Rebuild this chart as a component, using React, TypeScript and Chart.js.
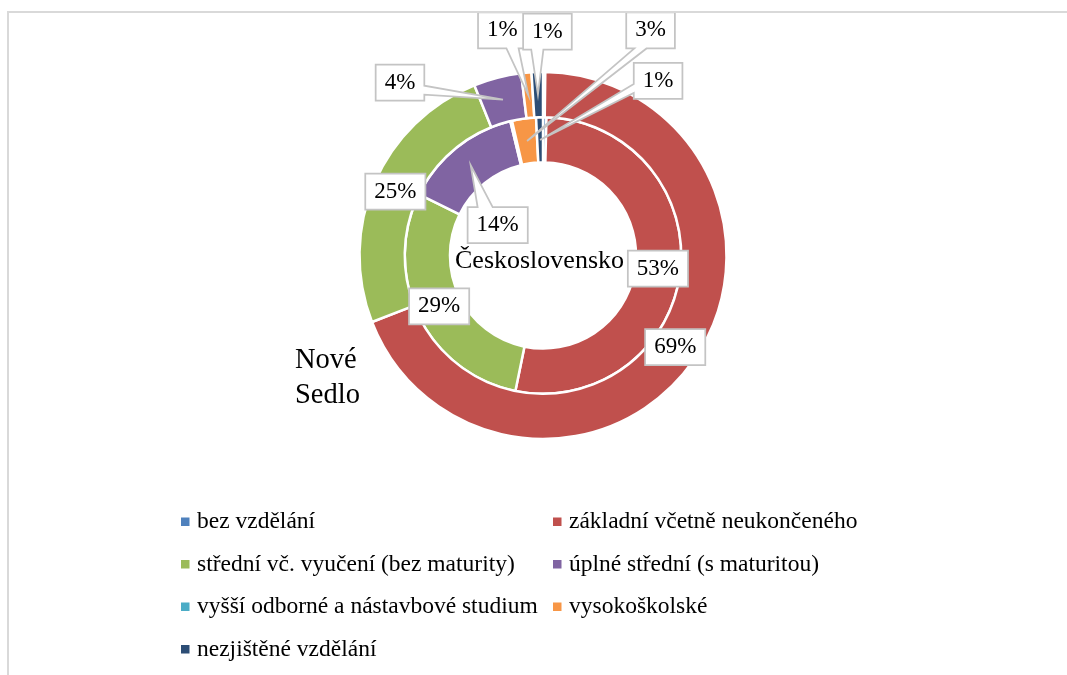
import { useEffect, useRef } from "react";
import { Chart, registerables } from "chart.js";

Chart.register(...registerables);

const categories = [
  "bez vzdělání",
  "základní včetně neukončeného",
  "střední vč. vyučení (bez maturity)",
  "úplné střední (s maturitou)",
  "vyšší odborné a nástavbové studium",
  "vysokoškolské",
  "nezjištěné vzdělání",
];

const seriesNames = ["Nové Sedlo", "Československo"];

// Nové Sedlo (outer ring), percent
const noveSedlo = [0.2, 68.9, 24.8, 4.2, 0, 0.9, 1.0];
// Československo (inner ring), percent
const ceskoslovensko = [0.4, 52.8, 29.1, 13.9, 0.2, 2.8, 0.8];

const colors = ["#4F81BD", "#C0504D", "#9BBB59", "#8064A2", "#4BACC6", "#F79646", "#2C4D75"];

// label displacement from the segment centre (layout only), per ring / per slice
const labelOffsets = [
  [[0, 0], [0, 0], [0, 0], [-103, -17], [0, 0], [-26, -65], [9.5, -63]],
  [[0, 0], [0, 0], [0, 0], [27, 60], [0, 0], [123.5, -110.5], [118, -59]],
];

const FONT = "'Liberation Serif', 'Times New Roman', serif";

const calloutPlugin = {
  id: "callouts",
  afterDatasetsDraw(chart: any) {
    const ctx = chart.ctx as CanvasRenderingContext2D;
    ctx.save();
    ctx.font = `23px ${FONT}`;
    chart.data.datasets.forEach((ds: any, di: number) => {
      const meta = chart.getDatasetMeta(di);
      meta.data.forEach((arc: any, i: number) => {
        const v = ds.data[i];
        const pct = Math.round(v);
        if (pct < 1) return;
        const p = arc.getProps(["x", "y", "startAngle", "endAngle", "innerRadius", "outerRadius"]);
        const mid = (p.startAngle + p.endAngle) / 2;
        const r = (p.innerRadius + p.outerRadius) / 2;
        const ax = p.x + Math.cos(mid) * r;
        const ay = p.y + Math.sin(mid) * r;
        const [dx, dy] = labelOffsets[di][i];
        const cx = ax + dx;
        const cy = ay + dy;
        const text = pct + "%";
        const tw = ctx.measureText(text).width;
        const w = tw + 18;
        const h = 36;
        const l = cx - w / 2;
        const t = cy - h / 2;
        const rr = l + w;
        const b = t + h;
        const relx = ax - cx;
        const rely = ay - cy;
        ctx.beginPath();
        const inside = Math.abs(relx) <= w / 2 && Math.abs(rely) <= h / 2;
        if (inside) {
          ctx.rect(l, t, w, h);
        } else {
          const horiz = Math.abs(relx) / w > Math.abs(rely) / h;
          const fx = relx < 0 ? [w / 6, (5 * w) / 12] : [(7 * w) / 12, (5 * w) / 6];
          const fy = rely < 0 ? [h / 6, (5 * h) / 12] : [(7 * h) / 12, (5 * h) / 6];
          ctx.moveTo(l, t);
          if (!horiz && rely < 0) {
            ctx.lineTo(l + fx[0], t);
            ctx.lineTo(ax, ay);
            ctx.lineTo(l + fx[1], t);
          }
          ctx.lineTo(rr, t);
          if (horiz && relx > 0) {
            ctx.lineTo(rr, t + fy[0]);
            ctx.lineTo(ax, ay);
            ctx.lineTo(rr, t + fy[1]);
          }
          ctx.lineTo(rr, b);
          if (!horiz && rely > 0) {
            ctx.lineTo(l + fx[1], b);
            ctx.lineTo(ax, ay);
            ctx.lineTo(l + fx[0], b);
          }
          ctx.lineTo(l, b);
          if (horiz && relx < 0) {
            ctx.lineTo(l, t + fy[1]);
            ctx.lineTo(ax, ay);
            ctx.lineTo(l, t + fy[0]);
          }
          ctx.closePath();
        }
        ctx.fillStyle = "#FFFFFF";
        ctx.fill();
        ctx.strokeStyle = "#C4C4C4";
        ctx.lineWidth = 1.75;
        ctx.lineJoin = "miter";
        ctx.stroke();
        ctx.fillStyle = "#000000";
        ctx.textAlign = "center";
        ctx.textBaseline = "middle";
        ctx.fillText(text, cx, cy);
      });
    });
    ctx.restore();
  },
  afterDraw(chart: any) {
    const ctx = chart.ctx as CanvasRenderingContext2D;
    ctx.save();
    // chart frame
    ctx.fillStyle = "#D9D9D9";
    ctx.fillRect(7, 11, 1070, 2);
    ctx.fillRect(7, 11, 2, 700);

    // series name labels
    const meta = chart.getDatasetMeta(0);
    const c = meta.data[0];
    const cxp = c.x;
    const cyp = c.y;
    ctx.fillStyle = "#000000";
    ctx.textBaseline = "alphabetic";
    ctx.textAlign = "left";
    ctx.font = `26px ${FONT}`;
    ctx.fillText(seriesNames[1], cxp - 88, cyp + 12.5);
    ctx.font = `28.5px ${FONT}`;
    const parts = seriesNames[0].split(" ");
    ctx.fillText(parts[0], cxp - 248, cyp + 112.5);
    ctx.fillText(parts[1], cxp - 248, cyp + 147.5);

    // legend
    ctx.font = `23.5px ${FONT}`;
    ctx.textBaseline = "middle";
    const colX = [181, 553];
    categories.forEach((name, i) => {
      const col = i % 2;
      const row = Math.floor(i / 2);
      const y = 522 + row * 42.5;
      ctx.fillStyle = colors[i];
      ctx.fillRect(colX[col], y - 4.5, 8.5, 8.5);
      ctx.fillStyle = "#000000";
      ctx.fillText(name, colX[col] + 16, y);
    });
    ctx.restore();
  },
};

export default function App() {
  const ref = useRef<HTMLCanvasElement | null>(null);
  useEffect(() => {
    if (!ref.current) return;
    const chart = new Chart(ref.current, {
      type: "doughnut",
      data: {
        labels: categories,
        datasets: [
          {
            label: seriesNames[0],
            data: noveSedlo,
            backgroundColor: colors,
            borderColor: "#FFFFFF",
            borderWidth: 2.5,
          },
          {
            label: seriesNames[1],
            data: ceskoslovensko,
            backgroundColor: colors,
            borderColor: "#FFFFFF",
            borderWidth: 2.5,
          },
        ],
      },
      options: {
        responsive: false,
        animation: false,
        radius: 183.5,
        cutout: "50.7%",
        layout: { padding: { top: 55.5, bottom: 219.5, left: 300, right: 281 } },
        plugins: {
          legend: { display: false },
          tooltip: { enabled: false },
        },
      } as any,
      plugins: [calloutPlugin],
    });
    return () => chart.destroy();
  }, []);
  return (
    <div style={{ position: "fixed", left: 0, top: 0, width: 1067, height: 675, background: "#fff" }}>
      <canvas ref={ref} width={1067} height={675} style={{ display: "block" }} />
    </div>
  );
}
